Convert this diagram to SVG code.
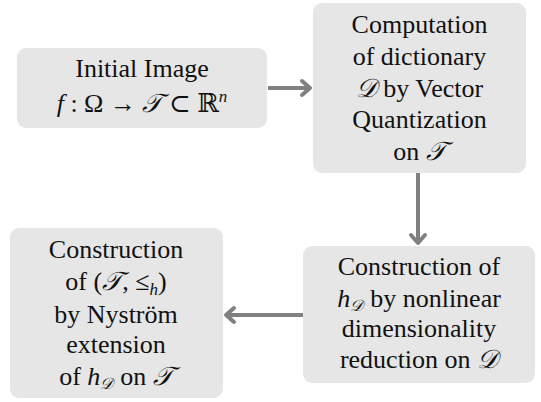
<svg xmlns="http://www.w3.org/2000/svg" width="541" height="402" viewBox="0 0 541 402">
<style>
.box{fill:#e6e6e6;}
.t{font-family:"Liberation Serif","DejaVu Serif",serif;font-size:26px;fill:#111;text-anchor:middle;}
.i{font-style:italic;}
.s{font-size:17px;font-style:italic;}
.c{font-style:italic;}
.conn{stroke:#808080;stroke-width:4;fill:none;}
.head{stroke:#808080;stroke-width:4;fill:none;stroke-linecap:round;stroke-linejoin:round;}
</style>
<g id="connectors">
<line class="conn" x1="268" y1="88" x2="309" y2="88"/>
<polyline class="head" points="302,81 310,88 302,95"/>
<line class="conn" x1="418" y1="173" x2="418" y2="242"/>
<polyline class="head" points="411,235 418,243 425,235"/>
<line class="conn" x1="303" y1="315" x2="227" y2="315"/>
<polyline class="head" points="234,308 226,315 234,322"/>
</g>
<g id="node1">
<rect class="box" x="17" y="48" width="250" height="80" rx="9"/>
<text class="t" x="142" y="77">Initial Image</text>
<text class="t" x="142" y="112"><tspan class="i">f</tspan> : Ω → <tspan class="c">𝒯</tspan> ⊂ ℝ<tspan class="s" dy="-10">n</tspan></text>
</g>
<g id="node2">
<rect class="box" x="313" y="3" width="213" height="170" rx="9"/>
<text class="t" x="419.5" y="33">Computation</text>
<text class="t" x="419.5" y="65">of dictionary</text>
<text class="t" x="419.5" y="97"><tspan class="c">𝒟</tspan> by Vector</text>
<text class="t" x="419.5" y="128">Quantization</text>
<text class="t" x="419.5" y="160">on <tspan class="c">𝒯</tspan></text>
</g>
<g id="node3">
<rect class="box" x="303" y="246" width="232" height="137" rx="9"/>
<text class="t" x="419" y="275">Construction of</text>
<text class="t" x="419" y="307"><tspan class="i">h</tspan><tspan class="c" font-size="16" dy="4">𝒟</tspan><tspan dx="7" dy="-4">by nonlinear</tspan></text>
<text class="t" x="419" y="337">dimensionality</text>
<text class="t" x="419" y="368">reduction on <tspan class="c">𝒟</tspan></text>
</g>
<g id="node4">
<rect class="box" x="10" y="228" width="213" height="170" rx="9"/>
<text class="t" x="116" y="258">Construction</text>
<text class="t" x="116" y="290">of (<tspan class="c">𝒯</tspan>, ≤<tspan class="s" dy="5">h</tspan><tspan dy="-5">)</tspan></text>
<text class="t" x="116" y="323">by Nyström</text>
<text class="t" x="116" y="353">extension</text>
<text class="t" x="116" y="385">of <tspan class="i">h</tspan><tspan class="c" font-size="16" dy="4">𝒟</tspan><tspan dx="7" dy="-4">on </tspan><tspan class="c">𝒯</tspan></text>
</g>
</svg>
